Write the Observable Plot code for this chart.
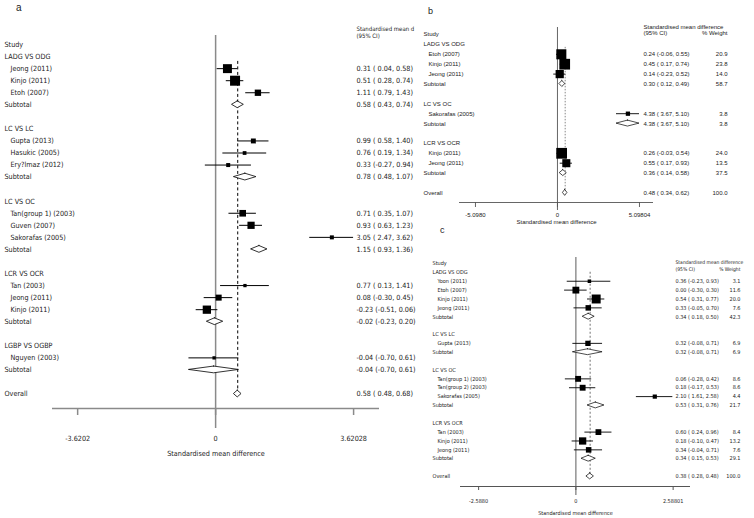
<!DOCTYPE html>
<html><head><meta charset="utf-8">
<script src="https://cdn.jsdelivr.net/npm/d3@7"></script>
<script src="https://cdn.jsdelivr.net/npm/@observablehq/plot@0.6"></script>
<style>
body{margin:0;background:#fff}
#wrap{position:relative;width:754px;height:518px;overflow:hidden;background:#fff}
#wrap svg{position:absolute;left:0;top:0;background:transparent;overflow:visible}
.lbl{position:absolute;font-family:"Liberation Sans",Arial,sans-serif;color:#222;line-height:1}
</style></head><body><div id="wrap"></div>
<script>
// ---------- Panel a ----------
const aGroups = ["LADG VS ODG","LC VS LC","LC VS OC","LCR VS OCR","LGBP VS OGBP"];
const aStudy = ["Jeong (2011)","Kinjo (2011)","Etoh (2007)","Gupta (2013)","Hasukic (2005)","Ery?lmaz (2012)","Tan(group 1) (2003)","Guven (2007)","Sakorafas (2005)","Tan (2003)","Jeong (2011)","Kinjo (2011)","Nguyen (2003)"];
const aGroupOf = [0,0,0,1,1,1,2,2,2,3,3,3,4];
const aEst = [0.31,0.51,1.11,0.99,0.76,0.33,0.71,0.93,3.05,0.77,0.08,-0.23,-0.04];
const aLo  = [0.04,0.28,0.79,0.58,0.19,-0.27,0.35,0.63,2.47,0.13,-0.30,-0.51,-0.70];
const aHi  = [0.58,0.74,1.43,1.40,1.34,0.94,1.07,1.23,3.62,1.41,0.45,0.06,0.61];
const aWeight = [20,25,10,6,3.5,4,11,13,4,2.7,9,17,2.7]; // estimated from square sizes (not printed)
const aSubEst = [0.58,0.78,1.15,-0.02,-0.04];
const aSubLo  = [0.43,0.48,0.93,-0.23,-0.70];
const aSubHi  = [0.74,1.07,1.36,0.20,0.61];
const aOverall = [0.58,0.48,0.68];
const aTicks = [-3.62028,0,3.62028];
const aTickLabels = ["-3.6202","0","3.62028"];

// ---------- Panel b ----------
const bGroups = ["LADG VS ODG","LC VS OC","LCR VS OCR"];
const bStudy = ["Etoh (2007)","Kinjo (2011)","Jeong (2011)","Sakorafas (2005)","Kinjo (2011)","Jeong (2011)"];
const bGroupOf = [0,0,0,1,2,2];
const bEst = [0.24,0.45,0.14,4.38,0.26,0.55];
const bLo  = [-0.06,0.17,-0.23,3.67,-0.03,0.17];
const bHi  = [0.55,0.74,0.52,5.10,0.54,0.93];
const bWeight = [20.9,23.8,14.0,3.8,24.0,13.5];
const bSubEst = [0.30,4.38,0.36];
const bSubLo  = [0.12,3.67,0.14];
const bSubHi  = [0.49,5.10,0.58];
const bSubWeight = [58.7,3.8,37.5];
const bOverall = [0.48,0.34,0.62];
const bOverallWeight = 100.0;
const bTicks = [-5.09804,0,5.09804];
const bTickLabels = ["-5.0980","0","5.09804"];

// ---------- Panel c ----------
const cGroups = ["LADG VS ODG","LC VS LC","LC VS OC","LCR VS OCR"];
const cStudy = ["Yoon (2011)","Etoh (2007)","Kinjo (2011)","Jeong (2011)","Gupta (2013)","Tan(group 1) (2003)","Tan(group 2) (2003)","Sakorafas (2005)","Tan (2003)","Kinjo (2011)","Jeong (2011)"];
const cGroupOf = [0,0,0,0,1,2,2,2,3,3,3];
const cEst = [0.36,0.00,0.54,0.33,0.32,0.06,0.18,2.10,0.60,0.18,0.34];
const cLo  = [-0.23,-0.30,0.31,-0.05,-0.08,-0.28,-0.17,1.61,0.24,-0.10,-0.04];
const cHi  = [0.93,0.30,0.77,0.70,0.71,0.42,0.53,2.58,0.96,0.47,0.71];
const cWeight = [3.1,11.6,20.0,7.6,6.9,8.6,8.6,4.4,8.4,13.2,7.6];
const cSubEst = [0.34,0.32,0.53,0.34];
const cSubLo  = [0.18,-0.08,0.31,0.15];
const cSubHi  = [0.50,0.71,0.76,0.53];
const cSubWeight = [42.3,6.9,21.7,29.1];
const cOverall = [0.38,0.28,0.48];
const cOverallWeight = 100.0;
const cTicks = [-2.58801,0,2.58801];
const cTickLabels = ["-2.5880","0","2.58801"];

function buildRows(groups, study, groupOf, est, lo, hi, weight, subEst, subLo, subHi, subW, overall, overallW) {
  const rows = [], studies = [], subs = [];
  let r = 1;
  groups.forEach((g, gi) => {
    rows.push({row: r++, label: g, kind: "group"});
    study.forEach((s, i) => {
      if (groupOf[i] !== gi) return;
      const d = {row: r++, label: s, kind: "study", est: est[i], lo: lo[i], hi: hi[i], w: weight[i]};
      rows.push(d); studies.push(d);
    });
    const sd = {row: r++, label: "Subtotal", kind: "sub", est: subEst[gi], lo: subLo[gi], hi: subHi[gi], w: subW ? subW[gi] : null};
    rows.push(sd); subs.push(sd);
    r++;
  });
  const od = {row: r, label: "Overall", kind: "overall", est: overall[0], lo: overall[1], hi: overall[2], w: overallW};
  rows.push(od); subs.push(od);
  return {rows, studies, subs, od};
}

const fmt = v => v.toFixed(2);
const ciText = d => `${fmt(d.est)} (${d.lo < 0 ? "" : " "}${fmt(d.lo)}, ${fmt(d.hi)})`;

function panel(cfg, data) {
  const {rows, studies, subs, od} = data;
  const h = cfg.diamondHalf;
  const diamonds = subs.flatMap((d, i) => [
    {z: i, y: d.row - h, x1: d.est, x2: d.est},
    {z: i, y: d.row, x1: d.lo, x2: d.hi},
    {z: i, y: d.row + h, x1: d.est, x2: d.est}
  ]);
  const left = rows.filter(d => d.kind !== "study");
  const indented = rows.filter(d => d.kind === "study");
  const withCI = rows.filter(d => d.est !== undefined);
  const fs = cfg.fontSize;
  const marks = [
    Plot.ruleX([0], {stroke: cfg.nullColor, strokeWidth: cfg.nullWidth}),
    Plot.axisX({ticks: [0], tickSize: cfg.nullExt, tickFormat: () => "", stroke: cfg.nullColor, strokeWidth: cfg.nullWidth, label: null}),
    Plot.ruleY([cfg.yDomain[1]], {stroke: cfg.axisColor, strokeWidth: cfg.axisWidth}),
    Plot.axisX({ticks: cfg.ticks, tickFormat: d => cfg.tickLabels[cfg.ticks.indexOf(d)], tickSize: cfg.tickSize, tickPadding: cfg.tickPad,
      stroke: cfg.axisColor, strokeWidth: cfg.axisWidth, fill: "#222", fontSize: fs, label: null}),
    Plot.text([cfg.axisTitle], {frameAnchor: "bottom", dy: cfg.titleDy, lineAnchor: "middle", fill: "#222", fontSize: fs}),
    Plot.ruleX([od], {x: "est", y1: cfg.refStart, y2: "row", stroke: cfg.refColor, strokeWidth: cfg.refWidth, strokeDasharray: cfg.refDash}),
    Plot.ruleY(studies, {y: "row", x1: "lo", x2: "hi", stroke: "#000", strokeWidth: cfg.ciWidth}),
    Plot.dot(studies, {x: "est", y: "row", r: "w", symbol: "square", fill: "#000", stroke: "none"}),
    Plot.areaX(diamonds, {y: "y", x1: "x1", x2: "x2", z: "z", fill: "white", stroke: "#000", strokeWidth: cfg.diamondStroke, curve: "linear"}),
    Plot.text(["Study"], {y: 0, frameAnchor: "left", textAnchor: "start", dx: cfg.labelDx, fill: "#222", fontSize: fs}),
    Plot.text(left, {y: "row", text: "label", frameAnchor: "left", textAnchor: "start", dx: cfg.labelDx, fill: "#222", fontSize: fs}),
    Plot.text(indented, {y: "row", text: "label", frameAnchor: "left", textAnchor: "start", dx: cfg.indentDx, fill: "#222", fontSize: fs}),
    Plot.text(withCI, {y: "row", text: ciText, frameAnchor: "right", textAnchor: "start", dx: cfg.ciDx, fill: "#222", fontSize: fs}),
    Plot.text([cfg.hdr1], {y: 0, dy: cfg.hdrDy1, frameAnchor: "right", textAnchor: "start", dx: cfg.ciDx, fill: "#222", fontSize: cfg.hdrSize}),
    Plot.text([cfg.hdr2], {y: 0, dy: cfg.hdrDy2, frameAnchor: "right", textAnchor: "start", dx: cfg.ciDx, fill: "#222", fontSize: cfg.hdrSize})
  ];
  if (cfg.wDx !== undefined) {
    marks.push(Plot.text(withCI, {y: "row", text: d => d.w.toFixed(1), frameAnchor: "right", textAnchor: "end", dx: cfg.wDx, fill: "#222", fontSize: fs}));
    marks.push(Plot.text(["% Weight"], {y: 0, dy: cfg.hdrDy2, frameAnchor: "right", textAnchor: "end", dx: cfg.wDx, fill: "#222", fontSize: cfg.hdrSize}));
  }
  return Plot.plot({
    width: 754, height: 518,
    marginLeft: cfg.frame[0], marginRight: 754 - cfg.frame[1], marginTop: cfg.frame[2], marginBottom: 518 - cfg.frame[3],
    style: {fontFamily: cfg.font, fontSize: fs + "px", background: "transparent", overflow: "visible"},
    x: {domain: cfg.xDomain},
    y: {domain: cfg.yDomain, reverse: true, axis: null},
    r: {domain: [0, 100], range: [0, cfg.rMax]},
    marks
  });
}

const narrow = '"Liberation Sans Narrow","Arial Narrow","DejaVu Sans Condensed",sans-serif';
const regular = '"Liberation Sans",Arial,sans-serif';
const axisTitle = "Standardised mean difference";

const aData = buildRows(aGroups, aStudy, aGroupOf, aEst, aLo, aHi, aWeight, aSubEst, aSubLo, aSubHi, null, aOverall, null);
const bData = buildRows(bGroups, bStudy, bGroupOf, bEst, bLo, bHi, bWeight, bSubEst, bSubLo, bSubHi, bSubWeight, bOverall, bOverallWeight);
const cData = buildRows(cGroups, cStudy, cGroupOf, cEst, cLo, cHi, cWeight, cSubEst, cSubLo, cSubHi, cSubWeight, cOverall, cOverallWeight);

const wrap = document.getElementById("wrap");

wrap.appendChild(panel({
  frame: [52, 379, 35, 408], xDomain: [-4.28, 4.30], yDomain: [-0.75, 30.2],
  font: narrow, fontSize: 7.2, hdrSize: 6, rMax: 11.3,
  nullColor: "#8a8a8a", nullWidth: 1.5, nullExt: 20, axisColor: "#8a8a8a", axisWidth: 1.5,
  ticks: aTicks, tickLabels: aTickLabels, tickSize: 7, tickPad: 20, axisTitle, titleDy: 45,
  refStart: 1.4, refColor: "#000", refWidth: 1, refDash: "3,2.5", ciWidth: 1,
  diamondHalf: 0.28, diamondStroke: 0.8,
  labelDx: -48, indentDx: -42, ciDx: -23,
  hdr1: "Standardised mean d", hdr2: "(95% CI)", hdrDy1: -15.5, hdrDy2: -8.5
}, aData));

wrap.appendChild(panel({
  frame: [459, 653, 27, 202], xDomain: [-6.09, 5.97], yDomain: [-0.707, 16.97],
  font: regular, fontSize: 6, hdrSize: 6, rMax: 12.4,
  nullColor: "#555", nullWidth: 0.9, nullExt: 8, axisColor: "#555", axisWidth: 0.9,
  ticks: bTicks, tickLabels: bTickLabels, tickSize: 5, tickPad: 5, axisTitle, titleDy: 20,
  refStart: 1.3, refColor: "#888", refWidth: 1, refDash: "1.5,1.5", ciWidth: 0.9,
  diamondHalf: 0.3, diamondStroke: 0.7,
  labelDx: -36, indentDx: -31, ciDx: -10, wDx: 74,
  hdr1: "Standardised mean difference", hdr2: "(95% CI)", hdrDy1: -7.5, hdrDy2: -1.5
}, bData));

wrap.appendChild(panel({
  frame: [460, 690, 257, 486], xDomain: [-3.07, 3.05], yDomain: [-0.676, 25.13],
  font: narrow, fontSize: 5.5, hdrSize: 5, rMax: 11.3,
  nullColor: "#777", nullWidth: 1.2, nullExt: 9, axisColor: "#555", axisWidth: 1,
  ticks: cTicks, tickLabels: cTickLabels, tickSize: 4, tickPad: 9, axisTitle, titleDy: 27,
  refStart: 1.0, refColor: "#888", refWidth: 1.2, refDash: "2,2", ciWidth: 0.9,
  diamondHalf: 0.33, diamondStroke: 0.7,
  labelDx: -28, indentDx: -23, ciDx: -15, wDx: 50,
  hdr1: "Standardised mean difference", hdr2: "(95% CI)", hdrDy1: -1, hdrDy2: 5.5
}, cData));

[["a", 16, 3, 10], ["b", 428, 7, 9], ["c", 440, 226, 9]].forEach(([t, x, y, s]) => {
  const el = document.createElement("span");
  el.className = "lbl"; el.textContent = t;
  el.style.left = x + "px"; el.style.top = y + "px"; el.style.fontSize = s + "px";
  wrap.appendChild(el);
});
</script></body></html>
